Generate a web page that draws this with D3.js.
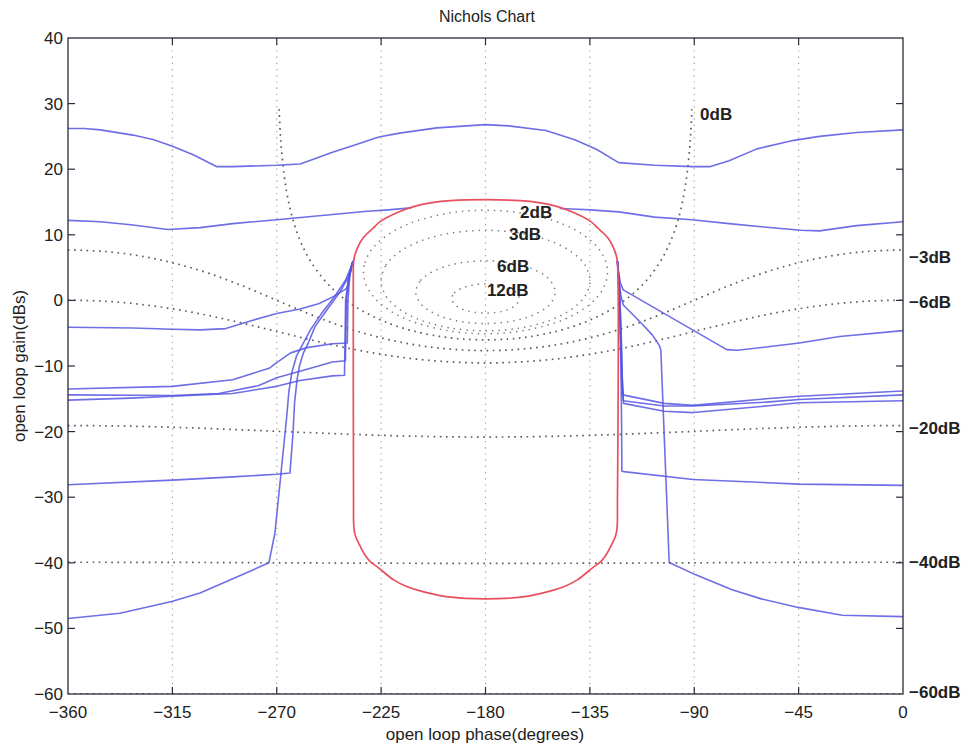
<!DOCTYPE html>
<html><head><meta charset="utf-8">
<script src="https://cdn.jsdelivr.net/npm/d3@7"></script>
<style>body{margin:0;background:#fff}</style>
</head><body>
<svg id="chart" width="974" height="746"></svg>
<script>
// ---------- axis ticks ----------
const phaseTicks = [-360,-315,-270,-225,-180,-135,-90,-45,0];
const gainTicks = [40,30,20,10,0,-10,-20,-30,-40,-50,-60];
const phaseGrid = [-315,-270,-225,-180,-135,-90,-45];

// ---------- Nichols grid contours [phase(deg), gain(dB)] ----------
const m0dB = [[-269,29.14],[-268.5,25.62],[-268,23.12],[-267,19.60],[-266,17.11],[-265,15.17],[-264,13.60],[-263,12.26],[-262,11.11],[-260,9.19],[-258,7.62],[-255,5.72],[-250,3.30],[-245,1.46],[-240,0],[-235,-1.19],[-230,-2.18],[-225,-3.01],[-220,-3.71],[-210,-4.77],[-200,-5.48],[-195,-5.72],[-190,-5.89],[-180,-6.02],[-170,-5.89],[-165,-5.72],[-160,-5.48],[-150,-4.77],[-140,-3.71],[-135,-3.01],[-130,-2.18],[-125,-1.19],[-120,0],[-115,1.46],[-110,3.30],[-105,5.72],[-102,7.62],[-100,9.19],[-98,11.11],[-97,12.26],[-96,13.60],[-95,15.17],[-94,17.11],[-93,19.60],[-92,23.12],[-91.5,25.62],[-91,29.14]];
const m2dB = [[-232.59,4.33],[-232,5.75],[-230,7.28],[-228,8.21],[-225,9.24],[-220,10.48],[-215,11.38],[-210,12.08],[-195,13.35],[-180,13.74],[-165,13.35],[-150,12.08],[-145,11.38],[-140,10.48],[-135,9.24],[-132,8.21],[-130,7.28],[-128,5.75],[-127.41,4.33],[-128,2.91],[-130,1.38],[-132,0.45],[-135,-0.58],[-140,-1.82],[-145,-2.73],[-150,-3.42],[-165,-4.69],[-180,-5.08],[-195,-4.69],[-210,-3.42],[-215,-2.73],[-220,-1.82],[-225,-0.58],[-228,0.45],[-230,1.38],[-232,2.91]];
const m3dB = [[-225.07,3.02],[-223,5.33],[-220,6.57],[-215,7.87],[-210,8.76],[-205,9.41],[-195,10.26],[-180,10.69],[-165,10.26],[-155,9.41],[-150,8.76],[-145,7.87],[-140,6.57],[-137,5.33],[-134.93,3.02],[-137,0.71],[-140,-0.53],[-145,-1.83],[-150,-2.72],[-155,-3.37],[-165,-4.22],[-180,-4.65],[-195,-4.22],[-205,-3.37],[-210,-2.72],[-215,-1.83],[-220,-0.53],[-223,0.71]];
const m6dB = [[-210.08,1.26],[-208,3.01],[-205,3.92],[-200,4.83],[-195,5.40],[-190,5.77],[-180,6.04],[-170,5.77],[-165,5.40],[-160,4.83],[-155,3.92],[-152,3.01],[-149.92,1.26],[-152,-0.49],[-155,-1.41],[-160,-2.32],[-165,-2.89],[-170,-3.26],[-180,-3.53],[-190,-3.26],[-195,-2.89],[-200,-2.32],[-205,-1.41],[-208,-0.49]];
const m12dB = [[-194.56,0.28],[-193.5,1.11],[-192,1.54],[-190,1.90],[-188,2.15],[-185,2.38],[-180,2.51],[-175,2.38],[-172,2.15],[-170,1.90],[-168,1.54],[-166.5,1.11],[-165.44,0.28],[-166.5,-0.55],[-168,-0.98],[-170,-1.34],[-172,-1.58],[-175,-1.81],[-180,-1.95],[-185,-1.81],[-188,-1.58],[-190,-1.34],[-192,-0.98],[-193.5,-0.55]];
const mNeg3dB = [[-360,7.69],[-345,7.48],[-330,6.84],[-315,5.75],[-300,4.21],[-285,2.25],[-270,0.02],[-255,-2.21],[-240,-4.17],[-225,-5.71],[-210,-6.80],[-195,-7.44],[-180,-7.65],[-165,-7.44],[-150,-6.80],[-135,-5.71],[-120,-4.17],[-105,-2.21],[-90,0.02],[-75,2.25],[-60,4.21],[-45,5.75],[-30,6.84],[-15,7.48],[0,7.69]];
const mNeg6dB = [[-360,0.04],[-345,-0.11],[-330,-0.55],[-315,-1.28],[-300,-2.26],[-285,-3.45],[-270,-4.74],[-255,-6.04],[-240,-7.23],[-225,-8.21],[-210,-8.94],[-195,-9.38],[-180,-9.53],[-165,-9.38],[-150,-8.94],[-135,-8.21],[-120,-7.23],[-105,-6.04],[-90,-4.74],[-75,-3.45],[-60,-2.26],[-45,-1.28],[-30,-0.55],[-15,-0.11],[0,0.04]];
const mNeg20dB = [[-360,-19.08],[-345,-19.11],[-330,-19.20],[-315,-19.34],[-300,-19.52],[-285,-19.73],[-270,-19.96],[-255,-20.18],[-240,-20.39],[-225,-20.57],[-210,-20.71],[-195,-20.80],[-180,-20.83],[-165,-20.80],[-150,-20.71],[-135,-20.57],[-120,-20.39],[-105,-20.18],[-90,-19.96],[-75,-19.73],[-60,-19.52],[-45,-19.34],[-30,-19.20],[-15,-19.11],[0,-19.08]];
const mNeg40dB = [[-360,-39.91],[-315,-39.94],[-270,-40.00],[-225,-40.06],[-180,-40.09],[-135,-40.06],[-90,-40.00],[-45,-39.94],[0,-39.91]];
const mNeg60dB = [[-360,-59.99],[-180,-60.01],[0,-59.99]];

// contour labels: [text, phase, gain]
const innerLabels = [["0dB",-87.5,28.4],["2dB",-165.1,13.5],["3dB",-169.9,10.1],["6dB",-175.0,5.2],["12dB",-179.4,1.6]];
const outerLabels = [["\u22123dB",6.6],["\u22126dB",-0.2],["\u221220dB",-19.45],["\u221240dB",-39.9],["\u221260dB",-59.7]];

// ---------- QFT bounds (blue), each as list of segments ----------
const boundA = [[[-360,26.2],[-353,26.2],[-346,26.0],[-332,25.2],[-323,24.5],[-315,23.5],[-306,22.2],[-296,20.4],[-289,20.4],[-270,20.6],[-260,20.8],[-256,21.3],[-246,22.6],[-237,23.6],[-226,24.9],[-217,25.5],[-201,26.3],[-180,26.8],[-170,26.6],[-154,25.9],[-141.5,24.5],[-132,23.0],[-122.6,21.0],[-107,20.6],[-91,20.4],[-83,20.4],[-75,21.3],[-63,23.1],[-47,24.4],[-36,25.0],[-20,25.6],[0,26.0]]];
const boundB = [[[-360,12.2],[-346,12.0],[-332,11.5],[-317,10.8],[-303,11.1],[-289,11.7],[-270,12.3],[-246,13.1],[-231,13.6],[-222,13.8],[-212,14.1]],
                [[-148,14.0],[-140,13.9],[-135,13.8],[-122.6,13.5],[-107,12.7],[-91,12.3],[-75,11.7],[-60,11.2],[-44,10.7],[-36,10.6],[-20,11.4],[0,12.0]]];
const boundC = [[[-360,-4.1],[-332,-4.2],[-315,-4.4],[-303,-4.5],[-292,-4.3],[-281,-3.1],[-270,-2.0],[-260,-1.3],[-252,-0.5],[-246,0.5],[-240,1.8],[-239.5,2.2],[-238.4,4.0],[-237.6,5.4],[-237.1,6.0]],
                [[-123.1,6.0],[-122.7,4.5],[-121.8,2.6],[-120.6,1.6],[-76,-7.5],[-71.5,-7.6],[-59,-7.1],[-44.7,-6.5],[-27.3,-5.5],[0,-4.6]]];
const boundD = [[[-360,-13.5],[-315,-13.1],[-289,-12.1],[-273,-10.3],[-270,-9.5],[-264,-8.0],[-257,-7.2],[-246,-6.6],[-239.6,-6.5],[-239.3,0],[-238.5,3.8],[-237.6,5.4],[-237.1,6.0]],
                [[-123.1,6.0],[-122.5,2],[-121.8,-5],[-121.3,-12],[-120.8,-14.4],[-103,-15.7],[-90.5,-16.0],[-59,-15.0],[-44.7,-14.6],[0,-13.8]]];
const boundE = [[[-360,-14.4],[-315,-14.5],[-295,-14.2],[-278,-13.0],[-270,-11.8],[-260,-10.8],[-246,-9.4],[-240.4,-9.2],[-240,0],[-239,3.3],[-237.6,5.4],[-237.1,6.0]],
                [[-123.1,6.0],[-122.3,2],[-121.6,-5],[-121.1,-12],[-120.6,-15.3],[-103,-16.1],[-90.5,-16.1],[-59,-15.5],[-44.7,-15.1],[0,-14.4]]];
const boundF = [[[-360,-15.2],[-333,-14.9],[-315,-14.6],[-289,-14.2],[-270,-13.1],[-260,-12.2],[-246,-11.5],[-240.8,-11.4],[-240.3,0],[-239.2,3.0],[-237.6,5.4],[-237.1,6.0]],
                [[-123.1,6.0],[-122.2,2],[-121.5,-5],[-121,-12],[-120.5,-15.7],[-103,-16.9],[-90.5,-17.1],[-59,-16.1],[-44.7,-15.6],[0,-15.3]]];
const boundG = [[[-360,-28.1],[-315,-27.4],[-289,-26.9],[-270,-26.5],[-264.3,-26.3],[-263.0,-20.3],[-262.3,-15.5],[-261.2,-12],[-260.2,-10],[-258.5,-8],[-256.4,-6.5],[-253.5,-4.0],[-248.5,-1.5],[-242.7,1.3],[-239.1,3.6],[-237.7,5.4],[-237.1,6.0]],
                [[-123.1,6.0],[-122.3,0],[-121.6,-10],[-121.3,-20],[-121.2,-26.0],[-120.5,-26.1],[-90.5,-27.3],[-44.7,-28.0],[0,-28.2]]];
const boundH = [[[-360,-48.5],[-337.6,-47.7],[-315.3,-45.9],[-303.1,-44.6],[-288.7,-42.4],[-273.4,-40.0],[-270.8,-35.5],[-267.9,-25.4],[-265.7,-17.7],[-264.8,-14],[-263.5,-11],[-261.5,-8.5],[-259,-6.8],[-255.5,-4.5],[-250.5,-1.9],[-245,0.6],[-240.5,3.0],[-238.3,4.8],[-237.1,6.0]],
                [[-123.1,6.0],[-122.5,3],[-121.5,0.5],[-120.6,-0.7],[-113,-3.4],[-108,-5.3],[-105,-6.9],[-104.4,-7.6],[-101.9,-30],[-100.8,-40],[-99.9,-40.1],[-89.6,-41.8],[-73.7,-44.1],[-61.1,-45.5],[-45.2,-46.8],[-26.2,-48.0],[0,-48.2]]];

// ---------- U-contour (red) ----------
const uContour = [[-237,5.0],[-236.6,6.5],[-235.2,8.0],[-232.8,9.5],[-228.5,11.0],[-225.5,12.0],[-218,13.4],[-211,14.3],[-203,14.9],[-195,15.2],[-180,15.35],[-165,15.2],[-157,14.9],[-149,14.3],[-142,13.4],[-134.5,12.0],[-131.5,11.0],[-127.2,9.5],[-124.8,8.0],[-123.4,6.5],[-123,5.0],
  [-123.1,-30],[-123.3,-34.8],[-124,-36],[-125.3,-37],[-127.5,-38.5],[-130,-39.7],[-134,-40.8],[-140.4,-42.6],[-146,-43.6],[-153,-44.4],[-164,-45.2],[-180,-45.5],[-196,-45.2],[-207,-44.4],[-214,-43.6],[-219.6,-42.6],[-226,-40.8],[-230,-39.7],[-232.5,-38.5],[-234.7,-37],[-236,-36],[-236.7,-34.8],[-236.9,-30],[-237,5.0]];

// ---------- drawing ----------
const FONT = "'Liberation Sans', Arial, Helvetica, sans-serif";
const svg = d3.select("#chart");
svg.append("rect").attr("width",974).attr("height",746).attr("fill","#fff");

const x = d3.scaleLinear().domain([-360,0]).range([68,903]);
const y = d3.scaleLinear().domain([-60,40]).range([694,38]);

svg.append("defs").append("clipPath").attr("id","clip")
  .append("rect").attr("x",68).attr("y",38).attr("width",835).attr("height",656);
const plot = svg.append("g").attr("clip-path","url(#clip)");

// vertical grid
plot.selectAll("line.grid").data(phaseGrid).enter().append("line")
  .attr("x1",d=>x(d)).attr("x2",d=>x(d)).attr("y1",y(40)).attr("y2",y(-60))
  .attr("stroke","#a0a0a0").attr("stroke-width",1.2).attr("stroke-dasharray","1.2,5");

const smooth = d3.line().x(d=>x(d[0])).y(d=>y(d[1])).curve(d3.curveCatmullRom.alpha(0.5));
const smoothClosed = d3.line().x(d=>x(d[0])).y(d=>y(d[1])).curve(d3.curveCatmullRomClosed.alpha(0.5));
const straight = d3.line().x(d=>x(d[0])).y(d=>y(d[1]));

const openContours = [m0dB, mNeg3dB, mNeg6dB, mNeg20dB, mNeg40dB, mNeg60dB];
const closedContours = [m2dB, m3dB, m6dB, m12dB];
plot.selectAll("path.mo").data(openContours).enter().append("path")
  .attr("d",smooth).attr("fill","none").attr("stroke","#5a5a5a").attr("stroke-width",1.7)
  .attr("stroke-dasharray","1.6,4.6");
plot.selectAll("path.mc").data(closedContours).enter().append("path")
  .attr("d",smoothClosed).attr("fill","none").attr("stroke","#7a7a7a").attr("stroke-width",1.5)
  .attr("stroke-dasharray","1.4,5");

// blue bounds
const bounds = [boundA, boundB, boundC, boundD, boundE, boundF, boundG, boundH];
bounds.forEach(b => {
  plot.selectAll(null).data(b).enter().append("path")
    .attr("d",straight).attr("fill","none").attr("stroke","#5555e2")
    .attr("stroke-opacity",0.85).attr("stroke-width",1.6).attr("stroke-linejoin","round");
});

// red U-contour
plot.append("path").datum(uContour).attr("d",smooth)
  .attr("fill","none").attr("stroke","#e8505e").attr("stroke-width",1.7);

// axes box
svg.append("rect").attr("x",68).attr("y",38).attr("width",835).attr("height",656)
  .attr("fill","none").attr("stroke","#2a2a3a").attr("stroke-width",1.3);

// ticks (inside, all four sides)
const tk = 7;
const tickG = svg.append("g").attr("stroke","#2a2a3a").attr("stroke-width",1.2);
phaseTicks.slice(1,-1).forEach(d=>{
  tickG.append("line").attr("x1",x(d)).attr("x2",x(d)).attr("y1",y(-60)).attr("y2",y(-60)-tk);
  tickG.append("line").attr("x1",x(d)).attr("x2",x(d)).attr("y1",y(40)).attr("y2",y(40)+tk);
});
gainTicks.slice(1,-1).forEach(d=>{
  tickG.append("line").attr("x1",x(-360)).attr("x2",x(-360)+tk).attr("y1",y(d)).attr("y2",y(d));
  tickG.append("line").attr("x1",x(0)).attr("x2",x(0)-tk).attr("y1",y(d)).attr("y2",y(d));
});

const fmt = d => d < 0 ? "\u2212" + Math.abs(d) : String(d);
svg.selectAll("text.xt").data(phaseTicks).enter().append("text")
  .attr("x",d=>x(d)).attr("y",718).attr("text-anchor","middle")
  .attr("font-family",FONT).attr("font-size",17).attr("fill","#222").text(fmt);
svg.selectAll("text.yt").data(gainTicks).enter().append("text")
  .attr("x",63).attr("y",d=>y(d)+6).attr("text-anchor","end")
  .attr("font-family",FONT).attr("font-size",17).attr("fill","#222").text(fmt);

// contour labels
svg.selectAll("text.il").data(innerLabels).enter().append("text")
  .attr("x",d=>x(d[1])).attr("y",d=>y(d[2])+6)
  .attr("font-family",FONT).attr("font-size",17).attr("font-weight","bold").attr("fill","#222")
  .text(d=>d[0]);
svg.selectAll("text.ol").data(outerLabels).enter().append("text")
  .attr("x",x(0)+6).attr("y",d=>y(d[1])+6)
  .attr("font-family",FONT).attr("font-size",17).attr("font-weight","bold").attr("fill","#222")
  .text(d=>d[0]);

// title and axis labels
svg.append("text").attr("x",487).attr("y",22).attr("text-anchor","middle")
  .attr("font-family",FONT).attr("font-size",16).attr("fill","#222").text("Nichols Chart");
svg.append("text").attr("x",485).attr("y",740).attr("text-anchor","middle")
  .attr("font-family",FONT).attr("font-size",17).attr("fill","#222").text("open loop phase(degrees)");
svg.append("text").attr("transform","translate(25,366) rotate(-90)").attr("text-anchor","middle")
  .attr("font-family",FONT).attr("font-size",17).attr("fill","#222").text("open loop gain(dBs)");
</script>
</body></html>
